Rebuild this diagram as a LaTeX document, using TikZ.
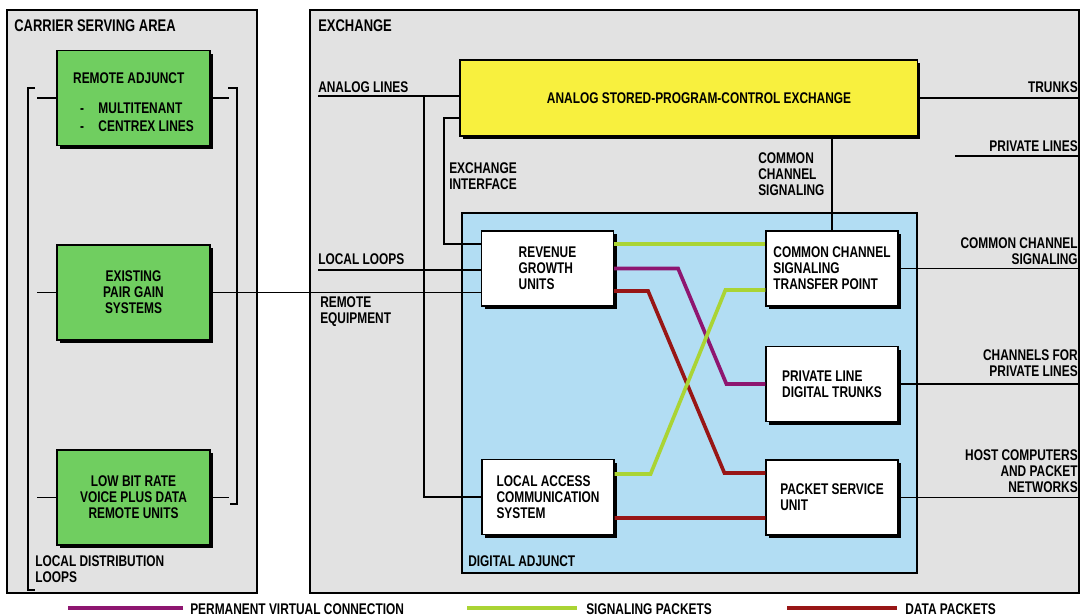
\documentclass[tikz,border=0pt]{standalone}
\usepackage{fontspec}
\setmainfont{Liberation Sans}[FakeStretch=0.77]
\usetikzlibrary{shadows,calc}
\definecolor{GrisPanel}{RGB}{226,226,226}
\definecolor{VerdeCaja}{RGB}{112,206,96}
\definecolor{AmarilloSPC}{RGB}{248,240,62}
\definecolor{AzulAdjunto}{RGB}{178,221,243}
\definecolor{MoradoVirtual}{RGB}{142,22,112}
\definecolor{VerdeSenal}{RGB}{170,212,52}
\definecolor{RojoDatos}{RGB}{152,22,22}

\begin{document}
\begin{tikzpicture}[x=0.025cm,y=-0.025cm,font=\fontsize{11pt}{11.3pt}\selectfont\bfseries,
  linea/.style={line width=0.9pt},
  panel/.style={draw,line width=1.1pt,fill=GrisPanel,inner sep=0},
  caja/.style={draw,line width=0.8pt,inner sep=0,align=left,
    drop shadow={shadow xshift=2.2pt,shadow yshift=-2.2pt,fill=black,opacity=1}},
  cajaverde/.style={caja,fill=VerdeCaja,align=center,minimum width=3.825cm,minimum height=2.375cm},
  cajablanca/.style={caja,fill=white,minimum width=3.3cm,minimum height=1.875cm},
  etiqueta/.style={inner sep=0,align=left},
  titulo/.style={inner sep=0,font=\fontsize{12pt}{13pt}\selectfont\bfseries},
  virtual/.style={line width=2.6pt,MoradoVirtual},
  senal/.style={line width=2.6pt,VerdeSenal},
  datos/.style={line width=2.6pt,RojoDatos}]
  \useasboundingbox (0,0) rectangle (1080,616);

  % los dos paneles
  \node[panel,minimum width=6.25cm,minimum height=14.575cm] (area) at (132,301.5) {};
  \node[panel,minimum width=19.225cm,minimum height=14.575cm] (central) at (694.5,301.5) {};
  \node[titulo,anchor=west] (tarea) at (14,26) {CARRIER SERVING AREA};
  \node[titulo,anchor=west] (tcentral) at (318,26) {EXCHANGE};

  % adjunto digital
  \node[draw,linea,fill=AzulAdjunto,minimum width=11.375cm,minimum height=9cm] (adjunto) at (689.5,393) {};
  \node[etiqueta,anchor=west] (tadjunto) at (468,561) {DIGITAL ADJUNCT};

  % cajas verdes del area
  \node[cajaverde,align=left] (remota) at (133.5,98)
    {\rule{0pt}{13.4pt}REMOTE ADJUNCT\\[10.5pt]\makebox[18pt][l]{\hspace{5pt}-}MULTITENANT\\[1.5pt]\makebox[18pt][l]{\hspace{5pt}-}CENTREX LINES};
  \node[cajaverde] (pargan) at (133.5,292.5) {EXISTING\\PAIR GAIN\\SYSTEMS};
  \node[cajaverde] (bajabit) at (133.5,497.5) {LOW BIT RATE\\VOICE PLUS DATA\\REMOTE UNITS};

  % central analogica y unidades
  \node[caja,fill=AmarilloSPC,minimum width=11.425cm,minimum height=1.9cm] (spc) at (688.5,98) {\hspace*{15pt}ANALOG STORED-PROGRAM-CONTROL EXCHANGE};
  \node[cajablanca] (rgu) at (547.5,268.5) {REVENUE\\GROWTH\\UNITS};
  \node[cajablanca] (stp) at (832,268.5) {COMMON CHANNEL\\SIGNALING\\TRANSFER POINT};
  \node[cajablanca] (pldt) at (832,384) {PRIVATE LINE\\DIGITAL TRUNKS};
  \node[cajablanca] (psu) at (832,497.5) {PACKET SERVICE\\UNIT};
  \node[cajablanca] (lacs) at (548,497) {LOCAL ACCESS\\COMMUNICATION\\SYSTEM};

  % corchetes de lazos de distribucion
  \draw[linea] (35,88) -| (28,590) -- (35,590);
  \draw[linea] (228,88) -| (237,504) -- (230,504);
  \foreach \c in {remota,pargan,bajabit}
    \draw[linea] (\c.west) -- ++(-19,0);
  \foreach \c in {remota,bajabit}
    \draw[linea] (\c.east) -- ++(18,0);
  \draw[linea] (pargan.east) -- (pargan.east -| rgu.west);

  % lineas de la central
  \coordinate (borde) at (1080,0);
  \coordinate (al) at (318,96);
  \coordinate (alv) at (424,96);
  \coordinate (ei) at (444,118);
  \coordinate (eir) at (444,244);
  \coordinate (ll) at (318,270);
  \coordinate (lp) at (955,156);
  \draw[linea] (al) -- (al -| spc.west);
  \draw[linea] (alv) |- (lacs.west);
  \draw[linea] (spc.west |- ei) -- (ei) -- (eir) -- (rgu.west |- eir);
  \draw[linea] (ll) -- (ll -| rgu.west);
  \draw[linea] (spc.south -| stp.north) -- (stp.north);
  \draw[linea] (spc.east) -- (spc.east -| borde);
  \draw[linea] (lp) -- (lp -| borde);
  \foreach \c in {stp,pldt,psu}
    \draw[linea] (\c.east) -- (\c.east -| borde);

  % conexiones de paquetes
  \draw[senal] ($(rgu.east)+(0,-24.5)$) -- ($(stp.west)+(0,-24.5)$);
  \draw[virtual] (rgu.east) -- ++(64,0) -- ($(pldt.west)+(-39,0)$) -- (pldt.west);
  \draw[datos] ($(rgu.east)+(0,22.5)$) -- ++(34,0) -- ($(psu.west)+(-41,-24.5)$) -- ++(41,0);
  \draw[senal] ($(lacs.east)+(0,-23)$) -- ++(36,0) -- ($(stp.west)+(-40,21.5)$) -- ++(40,0);
  \draw[datos] ($(lacs.east)+(0,21)$) -- ($(psu.west)+(0,20.5)$);

  % rotulos
  \node[etiqueta,anchor=west] (tanalog) at (318,87) {ANALOG LINES};
  \node[etiqueta,anchor=west] (tinterfaz) at (449,176) {EXCHANGE\\INTERFACE};
  \node[etiqueta,anchor=west] (tccs) at (758,174) {COMMON\\CHANNEL\\SIGNALING};
  \node[etiqueta,anchor=west] (tlocal) at (318,259) {LOCAL LOOPS};
  \node[etiqueta,anchor=west] (tremoto) at (320,312) {REMOTE\\EQUIPMENT};
  \node[etiqueta,anchor=west] (tdistrib) at (35,569) {LOCAL DISTRIBUTION\\LOOPS};
  \node[etiqueta,anchor=east] (ttroncales) at (1078,87) {TRUNKS};
  \node[etiqueta,anchor=east] (tprivadas) at (1078,146) {PRIVATE LINES};
  \node[etiqueta,anchor=east,align=right] (tsenal) at (1078,251) {COMMON CHANNEL\\SIGNALING};
  \node[etiqueta,anchor=east,align=right] (tcanales) at (1078,363) {CHANNELS FOR\\PRIVATE LINES};
  \node[etiqueta,anchor=east,align=right] (thost) at (1078,471) {HOST COMPUTERS\\AND PACKET\\NETWORKS};

  % leyenda
  \node[etiqueta,anchor=west] (lvirtual) at (190,609) {PERMANENT VIRTUAL CONNECTION};
  \node[etiqueta,anchor=west] (lsenal) at (586,609) {SIGNALING PACKETS};
  \node[etiqueta,anchor=west] (ldatos) at (905,609) {DATA PACKETS};
  \draw[virtual] (lvirtual.west) ++(-7,-1) -- ++(-115,0);
  \draw[senal] (lsenal.west) ++(-9,-1) -- ++(-110,0);
  \draw[datos] (ldatos.west) ++(-8,-1) -- ++(-110,0);
\end{tikzpicture}
\end{document}
